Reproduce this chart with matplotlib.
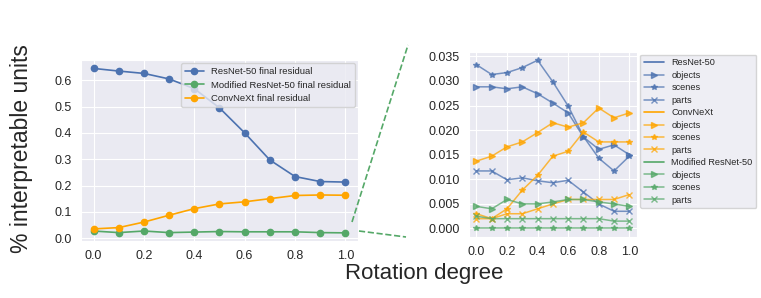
import matplotlib
matplotlib.use("Agg")
import matplotlib.pyplot as plt
import seaborn as sns
from matplotlib.lines import Line2D

sns.set_style("darkgrid")
plt.rcParams['font.family'] = ['Liberation Sans', 'DejaVu Sans']

rotation = [0.0, 0.1, 0.2, 0.3, 0.4, 0.5, 0.6, 0.7, 0.8, 0.9, 1.0]

# left panel: final residual
resnet_final = [0.645, 0.635, 0.626, 0.605, 0.568, 0.495, 0.400, 0.297, 0.234, 0.215, 0.213]
modified_final = [0.027, 0.021, 0.027, 0.021, 0.023, 0.025, 0.024, 0.024, 0.024, 0.021, 0.020]
convnext_final = [0.035, 0.040, 0.061, 0.087, 0.112, 0.130, 0.138, 0.150, 0.162, 0.164, 0.163]

# right panel: per concept category
resnet_objects = [0.0288, 0.0288, 0.0284, 0.0288, 0.0274, 0.0255, 0.0235, 0.0186, 0.0161, 0.0170, 0.0150]
resnet_scenes = [0.0333, 0.0313, 0.0317, 0.0327, 0.0342, 0.0298, 0.0249, 0.0187, 0.0143, 0.0117, 0.0147]
resnet_parts = [0.0117, 0.0117, 0.0099, 0.0103, 0.0097, 0.0093, 0.0098, 0.0074, 0.0050, 0.0035, 0.0035]
convnext_objects = [0.0137, 0.0147, 0.0166, 0.0176, 0.0195, 0.0215, 0.0206, 0.0215, 0.0245, 0.0225, 0.0235]
convnext_scenes = [0.0030, 0.0020, 0.0040, 0.0078, 0.0108, 0.0147, 0.0157, 0.0196, 0.0176, 0.0176, 0.0176]
convnext_parts = [0.0020, 0.0020, 0.0030, 0.0030, 0.0040, 0.0050, 0.0059, 0.0059, 0.0059, 0.0059, 0.0069]
modified_objects = [0.0045, 0.0040, 0.0059, 0.0050, 0.0050, 0.0054, 0.0059, 0.0059, 0.0054, 0.0050, 0.0045]
modified_scenes = [0.0, 0.0, 0.0, 0.0, 0.0, 0.0, 0.0, 0.0, 0.0, 0.0, 0.0]
modified_parts = [0.0025, 0.0020, 0.0020, 0.0020, 0.0020, 0.0020, 0.0020, 0.0020, 0.0020, 0.0015, 0.0015]

blue = "#4C72B0"
green = "#55A868"
orange = "orange"

fig = plt.figure(figsize=(7.61, 2.98), dpi=100)
ax1 = fig.add_axes([0.1064, 0.191, 0.364, 0.607])
ax2 = fig.add_axes([0.616, 0.205, 0.221, 0.621])

ax1.plot(rotation, resnet_final, marker="o", ms=4.5, lw=1.2, color=blue, label="ResNet-50 final residual")
ax1.plot(rotation, modified_final, marker="o", ms=4.5, lw=1.2, color=green, label="Modified ResNet-50 final residual")
ax1.plot(rotation, convnext_final, marker="o", ms=4.5, lw=1.2, color=orange, label="ConvNeXt final residual")
ax1.legend(loc="upper right", fontsize=6.8, borderaxespad=0.3)
ax1.set_xticks([0.0, 0.2, 0.4, 0.6, 0.8, 1.0])
ax1.tick_params(labelsize=9, pad=3)

groups = [
    ("ResNet-50", blue, resnet_objects, resnet_scenes, resnet_parts),
    ("ConvNeXt", orange, convnext_objects, convnext_scenes, convnext_parts),
    ("Modified ResNet-50", green, modified_objects, modified_scenes, modified_parts),
]
handles = []
for name, col, obj, sce, par in groups:
    handles.append(Line2D([], [], color=col, lw=1.2, label=name))
    for vals, mk, lab in [(obj, ">", "objects"), (sce, "*", "scenes"), (par, "x", "parts")]:
        h, = ax2.plot(rotation, vals, marker=mk, ms=4, lw=1.1, color=col, alpha=0.75, label=lab)
        handles.append(h)
ax2.legend(handles=handles, loc="upper left", bbox_to_anchor=(1.02, 0.985), fontsize=6.6,
           borderaxespad=0.0, handlelength=2.2, labelspacing=0.38)
ax2.set_xticks([0.0, 0.2, 0.4, 0.6, 0.8, 1.0])
ax2.set_yticks([0.0, 0.005, 0.010, 0.015, 0.020, 0.025, 0.030, 0.035])
ax2.yaxis.set_major_formatter(matplotlib.ticker.FormatStrFormatter("%.3f"))
ax2.tick_params(labelsize=9, pad=3)

# zoom connector lines
fig.add_artist(Line2D([352 / 761, 408 / 761], [1 - 222 / 298, 1 - 45 / 298], color=green, ls="--", lw=1.2))
fig.add_artist(Line2D([359 / 761, 406 / 761], [1 - 231 / 298, 1 - 237 / 298], color=green, ls="--", lw=1.2))

fig.text(22 / 761, 0.5, "% interpretable units", rotation=90, ha="center", va="center", fontsize=16.5)
fig.text(424 / 761, 1 - 273 / 298, "Rotation degree", ha="center", va="center", fontsize=16)

fig.savefig("out.png", dpi=100)
